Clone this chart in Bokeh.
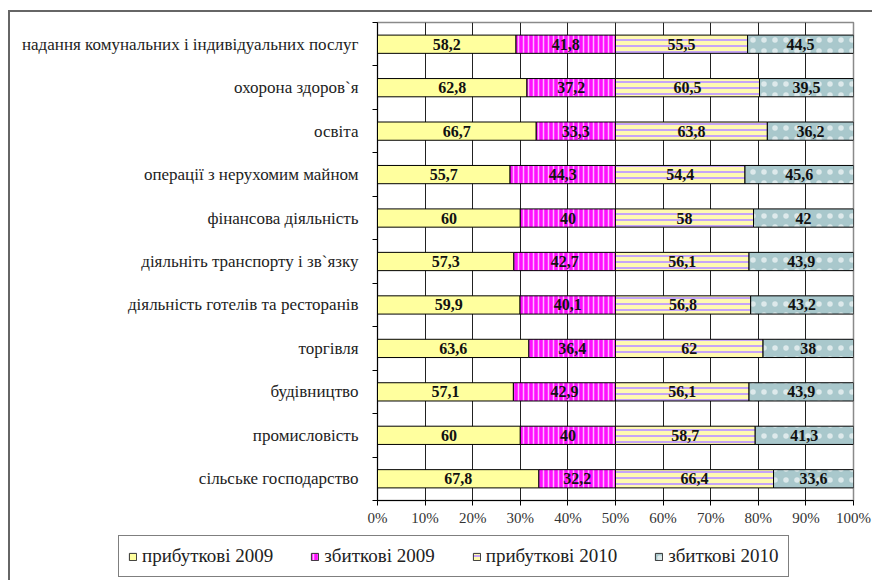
from bokeh.plotting import figure
from bokeh.layouts import column
from bokeh.models import FixedTicker, Legend, LegendItem, ColumnDataSource, LabelSet, Range1d
from bokeh.embed import file_html
from bokeh.resources import INLINE
from bokeh.core.properties import value

categories = [
    "надання комунальних і індивідуальних послуг",
    "охорона здоров`я",
    "освіта",
    "операції з нерухомим майном",
    "фінансова діяльність",
    "діяльніть транспорту і зв`язку",
    "діяльність готелів та ресторанів",
    "торгівля",
    "будівництво",
    "промисловість",
    "сільське господарство",
]
prof2009 = [58.2, 62.8, 66.7, 55.7, 60, 57.3, 59.9, 63.6, 57.1, 60, 67.8]
loss2009 = [41.8, 37.2, 33.3, 44.3, 40, 42.7, 40.1, 36.4, 42.9, 40, 32.2]
prof2010 = [55.5, 60.5, 63.8, 54.4, 58, 56.1, 56.8, 62, 56.1, 58.7, 66.4]
loss2010 = [44.5, 39.5, 36.2, 45.6, 42, 43.9, 43.2, 38, 43.9, 41.3, 33.6]
series_names = ["прибуткові 2009", "збиткові 2009", "прибуткові 2010", "збиткові 2010"]
x_ticks = [0, 10, 20, 30, 40, 50, 60, 70, 80, 90, 100]
x_tick_labels = ["0%", "10%", "20%", "30%", "40%", "50%", "60%", "70%", "80%", "90%", "100%"]

SERIF = "Times New Roman"
n = len(categories)
yc = [n - i - 0.5 for i in range(n)]


def fmt(v):
    return ("%g" % v).replace(".", ",")


l1 = [0.0] * n
r1 = [a / 2 for a in prof2009]
l2 = r1
r2 = [a / 2 + b / 2 for a, b in zip(prof2009, loss2009)]
l3 = r2
r3 = [x + c / 2 for x, c in zip(r2, prof2010)]
l4 = r3
r4 = [x + d / 2 for x, d in zip(r3, loss2010)]

p = figure(width=862, height=516, x_range=Range1d(0, 100), y_range=Range1d(0, n),
           output_backend="svg", toolbar_location=None,
           min_border_left=367, min_border_right=19, min_border_top=10, min_border_bottom=28)
p.background_fill_color = "white"
p.border_fill_color = "white"
p.outline_line_color = "#8a8a8a"
p.outline_line_width = 1.5

H = 0.42
styles = [
    dict(fill_color="#ffff9e"),
    dict(fill_color="#ff10ff", hatch_pattern="vertical_line", hatch_color="white",
         hatch_alpha=0.7, hatch_scale=5, hatch_weight=1.5),
    dict(fill_color="#fffab0", hatch_pattern="horizontal_line", hatch_color="#c09cff",
         hatch_alpha=1.0, hatch_scale=6, hatch_weight=1.8),
    dict(fill_color="#a9c8cc", hatch_pattern="dot", hatch_color="white",
         hatch_alpha=0.6, hatch_scale=11, hatch_weight=1.0),
]
lefts = [l1, l2, l3, l4]
rights = [r1, r2, r3, r4]
vals = [prof2009, loss2009, prof2010, loss2010]
for k in range(4):
    src = ColumnDataSource(dict(y=yc, left=lefts[k], right=rights[k],
                                xm=[(a + b) / 2 for a, b in zip(lefts[k], rights[k])],
                                txt=[fmt(v) for v in vals[k]]))
    p.hbar(y="y", left="left", right="right", height=H, source=src,
           line_color="black", line_width=1, **styles[k])
    lbl = LabelSet(x="xm", y="y", text="txt", source=src, text_align="center",
                   text_baseline="middle", text_font=value(SERIF), text_font_style="bold",
                   text_font_size="16px", text_color="#111111")
    p.add_layout(lbl)

p.xaxis.ticker = FixedTicker(ticks=x_ticks)
p.xaxis.major_label_overrides = {t: s for t, s in zip(x_ticks, x_tick_labels)}
p.xaxis.major_tick_out = 5
p.xaxis.major_tick_in = 0
p.xaxis.minor_tick_out = 0
p.xaxis.minor_tick_in = 0
p.xaxis.axis_line_color = "black"
p.xaxis.major_tick_line_color = "black"
p.xaxis.major_label_text_font = SERIF
p.xaxis.major_label_text_font_size = "15px"
p.xaxis.major_label_text_color = "#333333"
p.xaxis.major_label_standoff = 4

p.yaxis.ticker = FixedTicker(ticks=yc, minor_ticks=list(range(n + 1)))
p.yaxis.major_label_overrides = {t: s for t, s in zip(yc, categories)}
p.yaxis.major_tick_out = 0
p.yaxis.major_tick_in = 0
p.yaxis.minor_tick_out = 5
p.yaxis.minor_tick_in = 0
p.yaxis.minor_tick_line_color = "black"
p.yaxis.axis_line_color = "black"
p.yaxis.major_label_text_font = SERIF
p.yaxis.major_label_text_font_size = "17px"
p.yaxis.major_label_text_color = "#222222"
p.yaxis.major_label_standoff = 14

p.xgrid.ticker = FixedTicker(ticks=x_ticks)
p.xgrid.grid_line_color = "#222222"
p.xgrid.grid_line_width = 1
p.ygrid.grid_line_color = None

# legend row (separate strip below the chart)
p2 = figure(width=862, height=52, x_range=Range1d(0, 1), y_range=Range1d(0, 1),
            output_backend="svg", toolbar_location=None, x_axis_type=None, y_axis_type=None,
            min_border_left=0, min_border_right=0, min_border_top=0, min_border_bottom=0)
p2.frame_align = False
p2.outline_line_color = None
p2.background_fill_color = "white"
p2.border_fill_color = "white"
leg_r = []
for k in range(4):
    # hidden placeholder bar (outside the visible range) used only as legend swatch
    es = ColumnDataSource(dict(y=[-5], left=[0], right=[1]))
    leg_r.append(p2.hbar(y="y", left="left", right="right", height=0.5, source=es,
                         line_color="#333333", line_width=1, **styles[k]))

legend = Legend(items=[LegendItem(label=series_names[k], renderers=[leg_r[k]]) for k in range(4)],
                location=(108, 3), orientation="horizontal")
legend.glyph_width = 9
legend.glyph_height = 9
legend.label_text_font = SERIF
legend.label_text_font_size = "19px"
legend.label_text_color = "#222222"
legend.label_standoff = 5
legend.spacing = 37
legend.padding = 9
legend.margin = 0
legend.border_line_color = "black"
legend.border_line_width = 1
legend.background_fill_color = "white"
legend.background_fill_alpha = 1
p2.add_layout(legend)

layout = column(p, p2, spacing=0)
layout.styles = {"border-left": "2px solid #666666", "border-top": "2px solid #666666",
                 "margin-left": "8px", "margin-top": "10px"}

open("out.html", "w").write(file_html(layout, INLINE))
